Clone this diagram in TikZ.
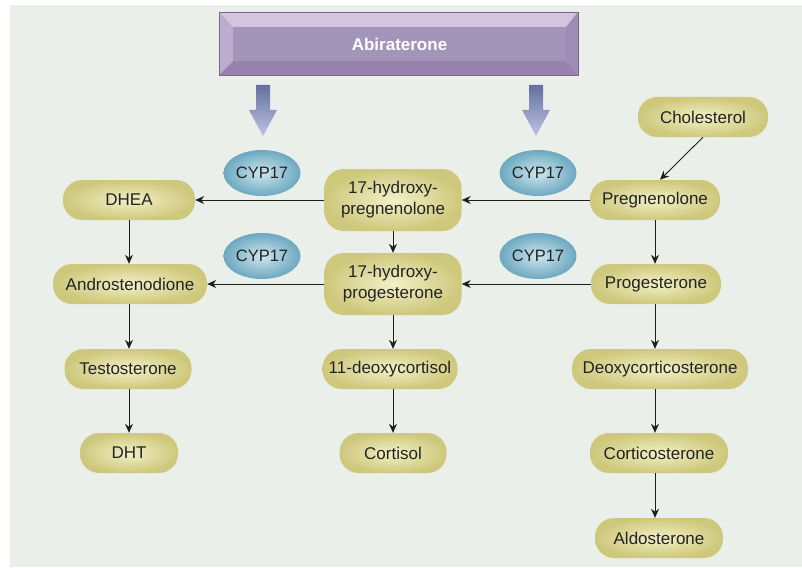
\documentclass[tikz,border=0pt]{standalone}
\usepackage{fontspec}
\setmainfont{Liberation Sans}
\usetikzlibrary{arrows.meta,shapes.geometric}
\definecolor{bgc}{RGB}{234,240,233}
\definecolor{pillout}{RGB}{206,200,124}
\definecolor{pillin}{RGB}{242,240,198}
\definecolor{ellout}{RGB}{108,168,192}
\definecolor{ellin}{RGB}{206,230,238}
\definecolor{txt}{RGB}{35,35,35}
\definecolor{abiin}{RGB}{163,148,185}
\definecolor{abilight}{RGB}{212,196,224}
\definecolor{abimid}{RGB}{190,172,206}
\definecolor{abidark}{RGB}{150,130,172}
\definecolor{arrtop}{RGB}{98,112,160}
\definecolor{arrbot}{RGB}{190,194,228}
\definecolor{linec}{RGB}{30,30,30}
\tikzset{
  pill/.style={rectangle, rounded corners=19pt, shade, inner color=pillin, outer color=pillout,
    minimum height=40pt, inner sep=2pt, text=txt, align=center,
    font=\fontsize{17}{21}\selectfont},
  enzyme/.style={ellipse, shade, inner color=ellin, outer color=ellout, minimum width=77pt,
    minimum height=46pt, inner sep=0pt, text=txt, font=\fontsize{16.5}{20}\selectfont},
  conn/.style={draw=linec, line width=0.9pt, -{Stealth[length=9pt,width=8pt]}},
  blockarrow/.style={top color=arrtop, bottom color=arrbot}
}
\begin{document}
\begin{tikzpicture}[x=1pt,y=-1pt]
\useasboundingbox (0,0) rectangle (802,567);
\fill[bgc] (10,5) rectangle (802,567);

% Abiraterone box
\node[rectangle, fill=abiin, minimum width=333pt, minimum height=34pt, inner sep=0pt,
  text=white, font=\fontsize{17}{20}\selectfont\bfseries] (abi) at (399.5,44) {Abiraterone};
\fill[abilight] (219,12) -- (578,12) -- (abi.north east) -- (abi.north west) -- cycle;
\fill[abimid] (219,12) -- (abi.north west) -- (abi.south west) -- (219,75) -- cycle;
\fill[abidark] (219,75) -- (abi.south west) -- (abi.south east) -- (578,75) -- cycle;
\fill[abidark!85!abilight] (578,12) -- (abi.north east) -- (abi.south east) -- (578,75) -- cycle;
\draw[abidark!80!black, line width=0.5pt] (219,12) rectangle (578,75);

% block arrows
\shade[blockarrow] (256,85) -- (270,85) -- (270,110) -- (277,110) -- (263,136) -- (249,110) -- (256,110) -- cycle;
\shade[blockarrow] (529,85) -- (543,85) -- (543,110) -- (550,110) -- (536,136) -- (522,110) -- (529,110) -- cycle;

% enzymes
\node[enzyme] (e1) at (262,173) {CYP17};
\node[enzyme] (e2) at (262,256) {CYP17};
\node[enzyme] (e3) at (538,173) {CYP17};
\node[enzyme] (e4) at (538,256) {CYP17};

% right column
\node[pill, minimum width=130pt] (chol) at (703,117) {Cholesterol};
\node[pill, minimum width=130pt] (preg) at (655,200) {Pregnenolone};
\node[pill, minimum width=130pt] (prog) at (656,284) {Progesterone};
\node[pill, minimum width=176pt] (doc) at (660,369) {Deoxycorticosterone};
\node[pill, minimum width=138pt] (cort) at (659,453) {Corticosterone};
\node[pill, minimum width=128pt] (aldo) at (659,538) {Aldosterone};

% middle column
\node[pill, minimum width=137pt, minimum height=62pt] (ohpreg) at (393,200) {17-hydroxy-\\pregnenolone};
\node[pill, minimum width=137pt, minimum height=62pt] (ohprog) at (393,284) {17-hydroxy-\\progesterone};
\node[pill, minimum width=135pt] (deoxyc) at (390,369) {11-deoxycortisol};
\node[pill, minimum width=107pt] (cortisol) at (393,453) {Cortisol};

% left column
\node[pill, minimum width=132pt] (dhea) at (129,200) {DHEA};
\node[pill, minimum width=154pt] (andro) at (130,284) {Androstenodione};
\node[pill, minimum width=127pt] (testo) at (128,369) {Testosterone};
\node[pill, minimum width=98pt] (dht) at (129,453) {DHT};

% connectors
\draw[conn] (chol.south) -- ([xshift=5pt]preg.north);
\draw[conn] (preg.south) -- (preg.south |- prog.north);
\draw[conn] (preg.south |- prog.south) -- (preg.south |- doc.north);
\draw[conn] (preg.south |- doc.south) -- (preg.south |- cort.north);
\draw[conn] (preg.south |- cort.south) -- (preg.south |- aldo.north);
\draw[conn] (preg.west) -- (ohpreg.east);
\draw[conn] (prog.west) -- (ohprog.east);
\draw[conn] (ohpreg.west) -- (dhea.east);
\draw[conn] (ohprog.west) -- (andro.east);
\draw[conn] (ohpreg.south) -- (ohpreg.south |- ohprog.north);
\draw[conn] (ohpreg.south |- ohprog.south) -- (ohpreg.south |- deoxyc.north);
\draw[conn] (ohpreg.south |- deoxyc.south) -- (ohpreg.south |- cortisol.north);
\draw[conn] (dhea.south) -- (dhea.south |- andro.north);
\draw[conn] (dhea.south |- andro.south) -- (dhea.south |- testo.north);
\draw[conn] (dhea.south |- testo.south) -- (dhea.south |- dht.north);
\end{tikzpicture}
\end{document}
